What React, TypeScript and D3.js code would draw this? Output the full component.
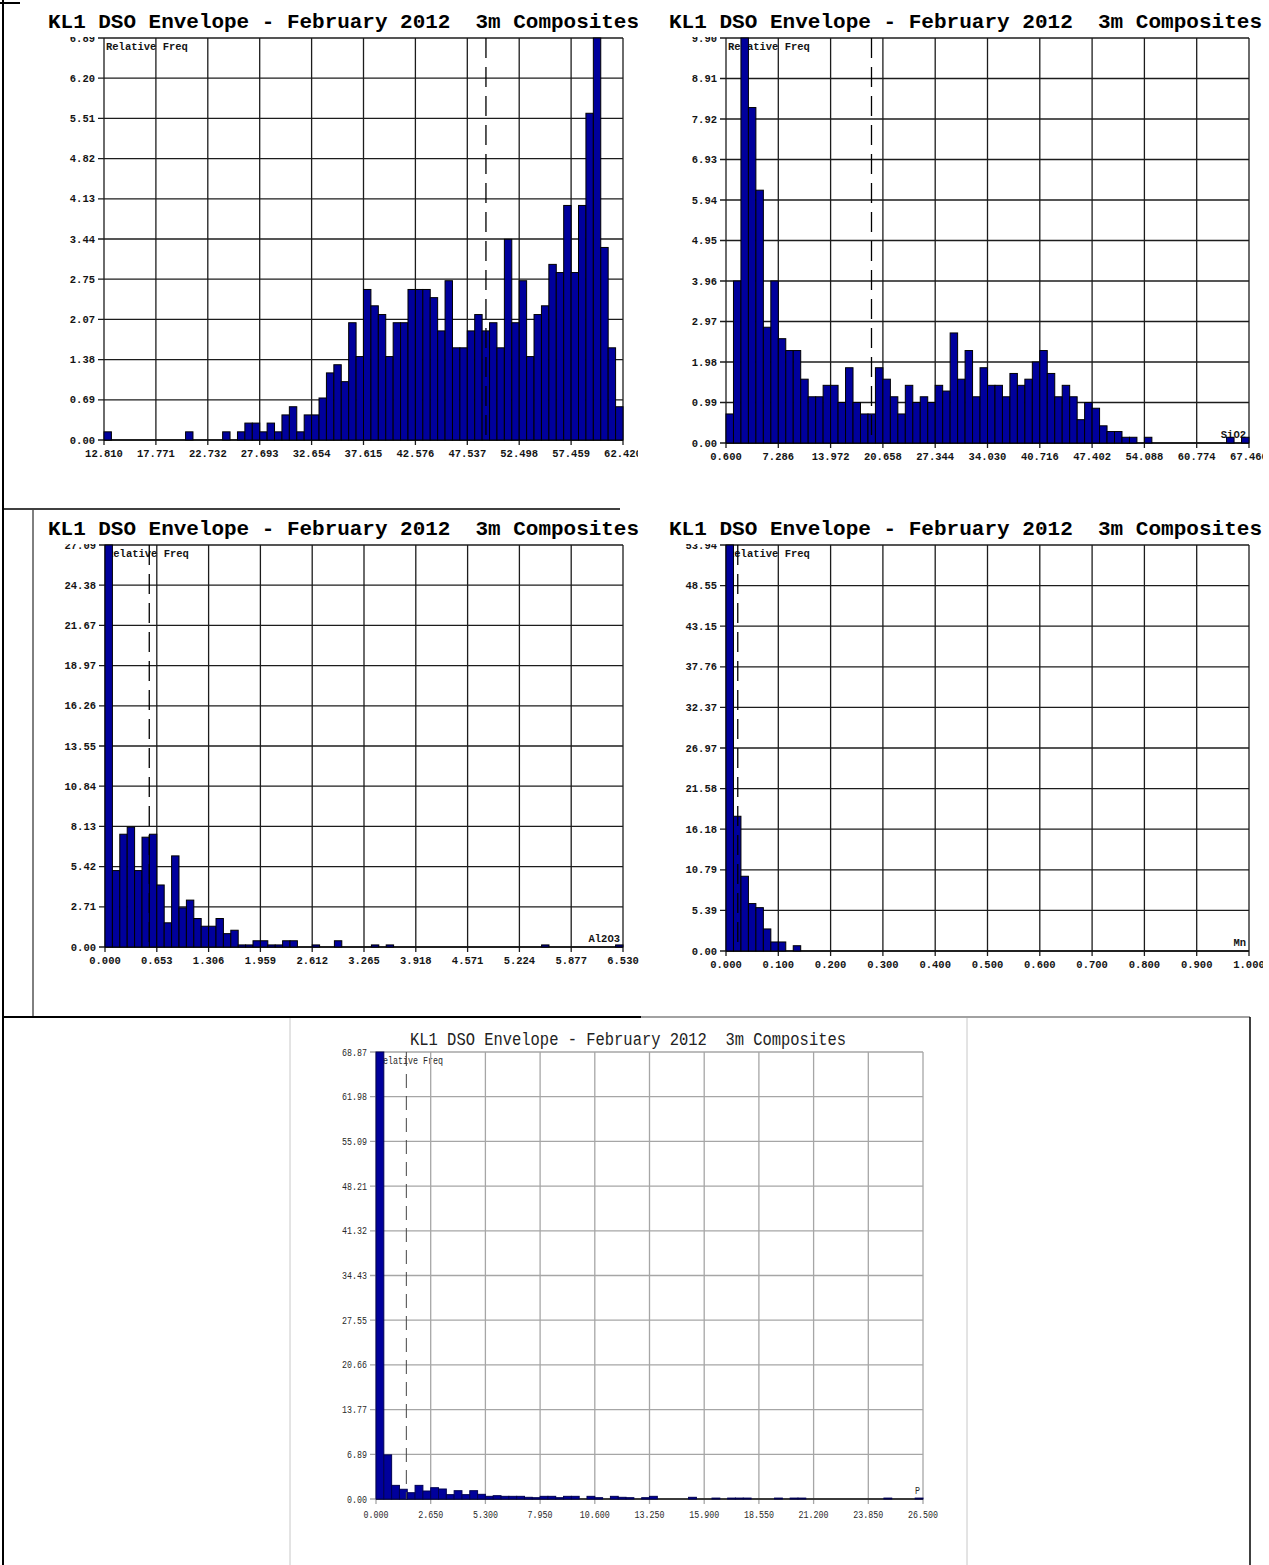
import React from "react";
import * as d3 from "d3";

const TITLE = "KL1 DSO Envelope - February 2012  3m Composites";

// Fe (top left)
const feTicks = ["12.810", "17.771", "22.732", "27.693", "32.654", "37.615", "42.576", "47.537", "52.498", "57.459", "62.420"];
const feYTicks = ["0.00", "0.69", "1.38", "2.07", "2.75", "3.44", "4.13", "4.82", "5.51", "6.20", "6.89"];
const feFreq = [
  0.14, 0, 0, 0, 0, 0, 0, 0, 0, 0,
  0, 0.14, 0, 0, 0, 0, 0.14, 0, 0.14, 0.29,
  0.29, 0.14, 0.29, 0.14, 0.43, 0.57, 0.14, 0.43, 0.43, 0.72,
  1.15, 1.29, 1.0, 2.01, 1.43, 2.58, 2.3, 2.15, 1.43, 2.01,
  2.01, 2.58, 2.58, 2.58, 2.44, 1.87, 2.73, 1.58, 1.58, 1.87,
  2.15, 1.87, 2.01, 1.58, 3.44, 2.01, 2.73, 1.43, 2.15, 2.3,
  3.01, 2.87, 4.02, 2.87, 4.02, 5.6, 6.89, 3.3, 1.58, 0.57,
];
const feMean = 49.32;

// SiO2 (top right)
const siTicks = ["0.600", "7.286", "13.972", "20.658", "27.344", "34.030", "40.716", "47.402", "54.088", "60.774", "67.460"];
const siYTicks = ["0.00", "0.99", "1.98", "2.97", "3.96", "4.95", "5.94", "6.93", "7.92", "8.91", "9.90"];
const siFreq = [
  0.71, 3.96, 9.9, 8.2, 6.18, 2.83, 3.96, 2.55, 2.26, 2.26,
  1.56, 1.13, 1.13, 1.41, 1.41, 0.99, 1.84, 0.99, 0.71, 0.71,
  1.84, 1.56, 1.13, 0.71, 1.41, 0.99, 1.13, 0.99, 1.41, 1.27,
  2.69, 1.56, 2.26, 1.13, 1.84, 1.41, 1.41, 1.13, 1.7, 1.41,
  1.56, 1.98, 2.26, 1.7, 1.13, 1.41, 1.13, 0.57, 0.99, 0.85,
  0.42, 0.28, 0.28, 0.14, 0.14, 0, 0.14, 0, 0, 0,
  0, 0, 0, 0, 0, 0, 0, 0.14, 0, 0.14,
];
const siMean = 19.2;

// Al2O3 (middle left)
const alTicks = ["0.000", "0.653", "1.306", "1.959", "2.612", "3.265", "3.918", "4.571", "5.224", "5.877", "6.530"];
const alYTicks = ["0.00", "2.71", "5.42", "8.13", "10.84", "13.55", "16.26", "18.97", "21.67", "24.38", "27.09"];
const alFreq = [
  27.09, 5.15, 7.6, 8.08, 5.15, 7.4, 7.6, 4.18, 1.63, 6.14,
  2.64, 3.16, 1.92, 1.4, 1.4, 1.92, 0.9, 1.13, 0.14, 0.14,
  0.42, 0.42, 0.14, 0.14, 0.42, 0.42, 0, 0, 0.14, 0,
  0, 0.42, 0, 0, 0, 0, 0.14, 0, 0.14, 0,
  0, 0, 0, 0, 0, 0, 0, 0, 0, 0,
  0, 0, 0, 0, 0, 0, 0, 0, 0, 0.14,
  0, 0, 0, 0, 0, 0, 0, 0, 0, 0.14,
];
const alMean = 0.558;

// Mn (middle right)
const mnTicks = ["0.000", "0.100", "0.200", "0.300", "0.400", "0.500", "0.600", "0.700", "0.800", "0.900", "1.000"];
const mnYTicks = ["0.00", "5.39", "10.79", "16.18", "21.58", "26.97", "32.37", "37.76", "43.15", "48.55", "53.94"];
const mnFreq = [
  53.94, 17.9, 9.93, 6.3, 5.76, 2.93, 1.2, 1.2, 0, 0.7,
  0, 0, 0, 0, 0, 0, 0, 0, 0, 0,
  0, 0, 0, 0, 0, 0, 0, 0, 0, 0,
  0, 0, 0, 0, 0, 0, 0, 0, 0, 0,
  0, 0, 0, 0, 0, 0, 0, 0, 0, 0,
  0, 0, 0, 0, 0, 0, 0, 0, 0, 0,
  0, 0, 0, 0, 0, 0, 0, 0, 0, 0,
];
const mnMean = 0.0225;

// P (bottom)
const pTicks = ["0.000", "2.650", "5.300", "7.950", "10.600", "13.250", "15.900", "18.550", "21.200", "23.850", "26.500"];
const pYTicks = ["0.00", "6.89", "13.77", "20.66", "27.55", "34.43", "41.32", "48.21", "55.09", "61.98", "68.87"];
const pFreq = [
  68.87, 6.8, 2.1, 1.5, 0.97, 2.1, 1.23, 1.74, 1.54, 0.67,
  1.28, 0.67, 1.28, 0.72, 0.41, 0.51, 0.41, 0.41, 0.41, 0.26,
  0.2, 0.41, 0.41, 0.2, 0.41, 0.41, 0, 0.41, 0.2, 0,
  0.41, 0.26, 0.2, 0, 0.2, 0.41, 0, 0, 0, 0,
  0.26, 0, 0, 0.14, 0, 0.14, 0.14, 0.14, 0, 0,
  0, 0.14, 0, 0.14, 0.14, 0, 0, 0, 0, 0,
  0, 0, 0, 0, 0, 0.14, 0, 0, 0, 0.14,
];
const pMean = 1.47;

const MONO = "'Liberation Mono', 'DejaVu Sans Mono', monospace";

type Plot = { l: number; t: number; r: number; b: number };
type HistProps = {
  id: string;
  plot: Plot;
  clipRight: number;
  frameTop: number;
  titleX: number;
  titleY: number;
  titleW: number;
  xTicks: string[];
  yTicks: string[];
  freq: number[];
  mean: number;
  element: string;
  light?: boolean;
};

const Histogram = (p: HistProps) => {
  const { l, t, r, b } = p.plot;
  const lo = +p.xTicks[0];
  const hi = +p.xTicks[p.xTicks.length - 1];
  const yMax = +p.yTicks[p.yTicks.length - 1];
  const x = d3.scaleLinear().domain([lo, hi]).range([l, r]);
  const y = d3.scaleLinear().domain([0, yMax]).range([b, t]);
  const bw = (hi - lo) / p.freq.length;
  const xVals = p.xTicks.map((_, i) => lo + ((hi - lo) * i) / (p.xTicks.length - 1));
  const yVals = p.yTicks.map((_, i) => (yMax * i) / (p.yTicks.length - 1));

  const light = !!p.light;
  const grid = light ? "#a6a6a6" : "#1c1c1c";
  const ink = light ? "#2a2a2a" : "#141414";
  const fs = light ? 11 : 10.5;
  const cw = light ? 5 : 6.3;
  const weight = light ? "normal" : "bold";
  const txt = (s: string) => (light ? { textLength: s.length * cw, lengthAdjust: "spacingAndGlyphs" as const } : {});
  const last = p.yTicks.length - 1;

  return (
    <g clipPath={`url(#clip-${p.id})`}>
      <defs>
        <clipPath id={`clip-${p.id}`}>
          <rect x={0} y={p.frameTop} width={p.clipRight} height={b + 40 - p.frameTop} />
        </clipPath>
        <clipPath id={`top-${p.id}`}>
          <rect x={0} y={t - 1} width={p.clipRight} height={20} />
        </clipPath>
      </defs>

      <text x={l + 2} y={t + 12} fontFamily={MONO} fontSize={fs} fontWeight={weight} fill={ink} {...txt("Relative Freq")}>
        Relative Freq
      </text>

      {/* grid */}
      {xVals.map((v, i) => (
        <line key={`gx${i}`} x1={x(v)} x2={x(v)} y1={t} y2={b + 5} stroke={grid} strokeWidth={1.3} />
      ))}
      {yVals.map((v, i) => (
        <line key={`gy${i}`} x1={l - 6} x2={r} y1={y(v)} y2={y(v)} stroke={grid} strokeWidth={1.3} />
      ))}
      <line x1={l} x2={r} y1={b} y2={b} stroke="#111" strokeWidth={1.5} />

      {/* tick labels; the top one is partly hidden under the title, as in the source */}
      {p.yTicks.map((s, i) => (
        <text
          key={`yl${i}`}
          x={l - 9}
          y={y(yVals[i]) + 3.5}
          textAnchor="end"
          fontFamily={MONO}
          fontSize={fs}
          fontWeight={weight}
          fill={ink}
          clipPath={!light && i === last ? `url(#top-${p.id})` : undefined}
          {...txt(s)}
        >
          {s}
        </text>
      ))}
      {p.xTicks.map((s, i) => (
        <text key={`xl${i}`} x={x(xVals[i])} y={b + (light ? 19 : 17)} textAnchor="middle" fontFamily={MONO} fontSize={fs} fontWeight={weight} fill={ink} {...txt(s)}>
          {s}
        </text>
      ))}

      {p.element && (
        <text x={r - 3} y={b - 5} textAnchor="end" fontFamily={MONO} fontSize={fs} fontWeight={weight} fill={ink} {...txt(p.element)}>
          {p.element}
        </text>
      )}

      {/* bars */}
      {p.freq.map((v, i) =>
        v > 0 ? (
          <rect
            key={`b${i}`}
            x={x(lo + i * bw)}
            y={y(v)}
            width={x(lo + (i + 1) * bw) - x(lo + i * bw)}
            height={b - y(v)}
            fill="#00009c"
            stroke={light ? "#000050" : "#000"}
            strokeWidth={1}
          />
        ) : null
      )}

      {/* mean */}
      <line x1={x(p.mean)} x2={x(p.mean)} y1={t} y2={b} stroke={light ? "#444" : "#000"} strokeWidth={light ? 1 : 1.3} strokeDasharray={light ? "14,8" : "20,9"} />

      {/* title */}
      <text
        x={p.titleX}
        y={p.titleY}
        fontFamily={MONO}
        fontSize={light ? 19 : 21}
        fontWeight={weight}
        fill={light ? "#222" : "#000"}
        textLength={p.titleW}
        lengthAdjust="spacingAndGlyphs"
        style={{ whiteSpace: "pre" }}
      >
        {TITLE}
      </text>
    </g>
  );
};

const App = () => {
  return (
    <svg width={1269} height={1565} style={{ position: "absolute", left: 0, top: 0, background: "#fff" }}>
      <rect width={1269} height={1565} fill="#fff" />

      {/* page frame */}
      <line x1={3} x2={3} y1={0} y2={1565} stroke="#000" strokeWidth={2} />
      <line x1={0} x2={20} y1={3} y2={3} stroke="#000" strokeWidth={2} />
      <line x1={3} x2={620} y1={509} y2={509} stroke="#000" strokeWidth={1.5} />
      <line x1={33} x2={33} y1={510} y2={1017} stroke="#000" strokeWidth={1} />
      <line x1={3} x2={641} y1={1017} y2={1017} stroke="#000" strokeWidth={2} />
      <line x1={641} x2={1250} y1={1017} y2={1017} stroke="#444" strokeWidth={1.2} />
      <line x1={1250} x2={1250} y1={1017} y2={1565} stroke="#000" strokeWidth={1.5} />
      <line x1={290} x2={290} y1={1018} y2={1565} stroke="#c8c8c8" strokeWidth={1} />
      <line x1={967} x2={967} y1={1018} y2={1565} stroke="#c8c8c8" strokeWidth={1} />

      <Histogram id="fe" plot={{ l: 104, t: 38, r: 623, b: 440 }} clipRight={638} frameTop={5}
        titleX={48} titleY={28} titleW={591} xTicks={feTicks} yTicks={feYTicks} freq={feFreq} mean={feMean} element="" />
      <Histogram id="si" plot={{ l: 726, t: 38, r: 1249, b: 443 }} clipRight={1263} frameTop={5}
        titleX={669} titleY={28} titleW={593} xTicks={siTicks} yTicks={siYTicks} freq={siFreq} mean={siMean} element="SiO2" />
      <Histogram id="al" plot={{ l: 105, t: 545, r: 623, b: 947 }} clipRight={640} frameTop={511}
        titleX={48} titleY={535} titleW={591} xTicks={alTicks} yTicks={alYTicks} freq={alFreq} mean={alMean} element="Al2O3" />
      <Histogram id="mn" plot={{ l: 726, t: 545, r: 1249, b: 951 }} clipRight={1263} frameTop={511}
        titleX={669} titleY={535} titleW={593} xTicks={mnTicks} yTicks={mnYTicks} freq={mnFreq} mean={mnMean} element="Mn" />
      <Histogram id="p" plot={{ l: 376, t: 1052, r: 923, b: 1499 }} clipRight={966} frameTop={1019}
        titleX={410} titleY={1045} titleW={436} xTicks={pTicks} yTicks={pYTicks} freq={pFreq} mean={pMean} element="P" light />
    </svg>
  );
};

export default App;
